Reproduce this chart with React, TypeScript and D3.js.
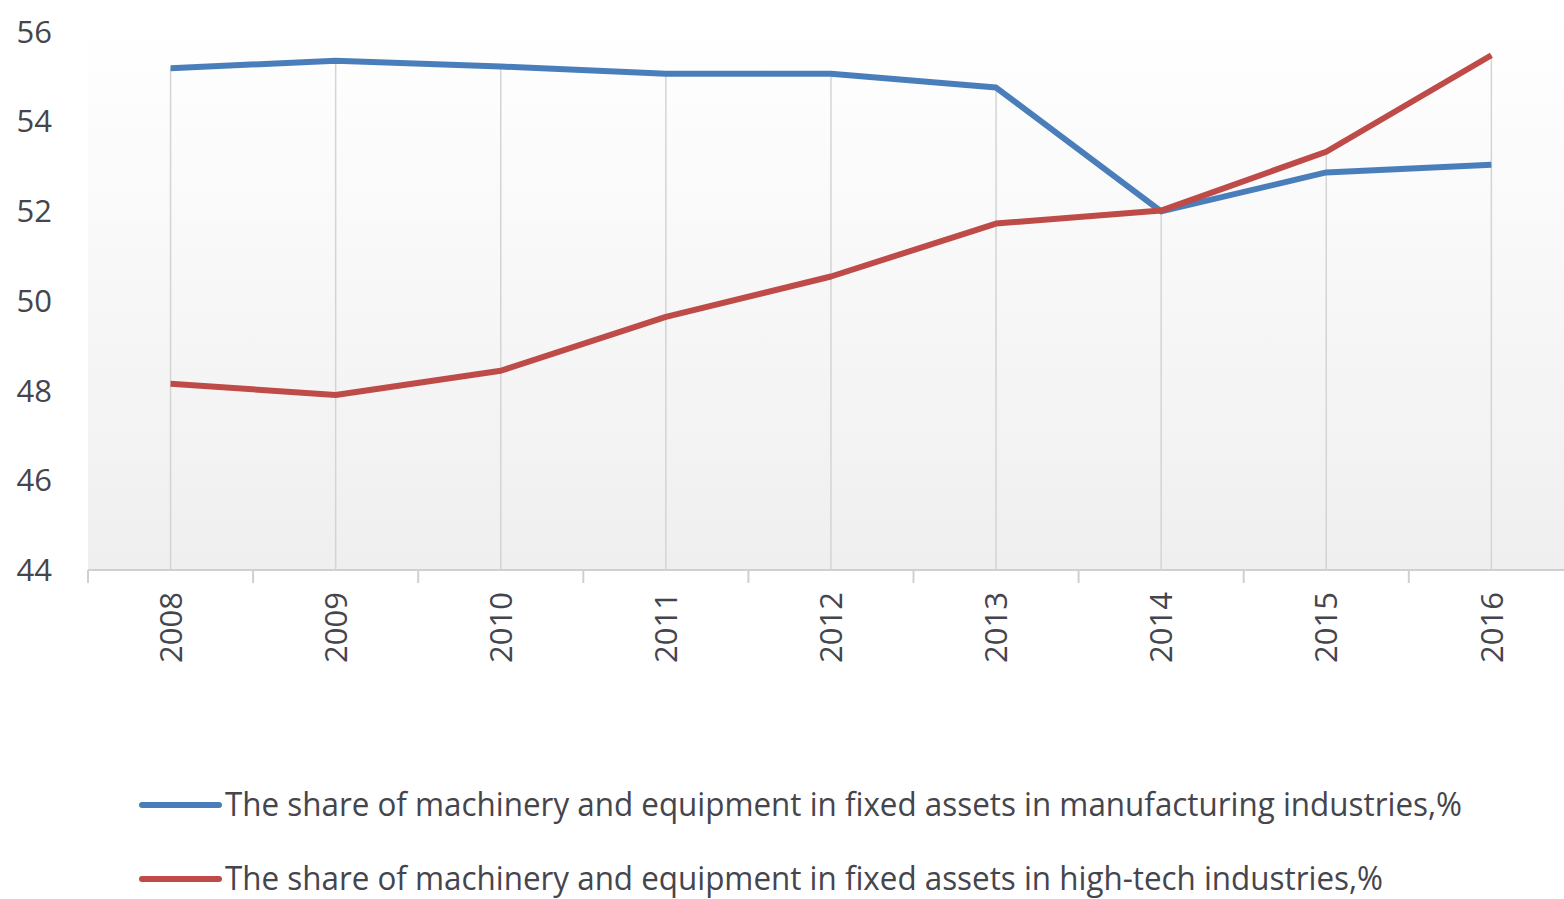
import React, { useEffect, useRef } from 'react';
import * as d3 from 'd3';

const years = ['2008', '2009', '2010', '2011', '2012', '2013', '2014', '2015', '2016'];
const manufacturing = [55.18, 55.35, 55.22, 55.06, 55.06, 54.75, 51.99, 52.86, 53.03];
const highTech = [48.15, 47.9, 48.44, 49.64, 50.54, 51.72, 52.01, 53.32, 55.47];
const yTicks = [44, 46, 48, 50, 52, 54, 56];
const seriesLabels = [
    'The share of machinery and equipment in fixed assets in manufacturing industries,%',
    'The share of machinery and equipment in fixed assets in high-tech industries,%',
];

const W = 1564;
const H = 899;
const blue = '#4a7ebb';
const red = '#be4b48';
const labelColor = '#45454d';
const font = '"Open Sans", "DejaVu Sans", sans-serif';

const drawChart = (svgEl: SVGSVGElement) => {
    const svg = d3.select(svgEl);
    svg.selectAll('*').remove();

    const left = 88;
    const bandW = 165.1;
    const top = 31.5;
    const bottom = 570;

    const x = d3.scaleBand<string>()
        .domain(years)
        .range([left, left + bandW * years.length])
        .padding(0);
    const cx = (y: string) => (x(y) as number) + x.bandwidth() / 2;

    const y = d3.scaleLinear().domain([44, 56]).range([bottom, top]);

    // --- background gradient ---
    const defs = svg.append('defs');
    const grad = defs.append('linearGradient')
        .attr('id', 'plotBg')
        .attr('x1', 0).attr('y1', 0).attr('x2', 0).attr('y2', 1);
    grad.append('stop').attr('offset', '0%').attr('stop-color', '#ffffff');
    grad.append('stop').attr('offset', '100%').attr('stop-color', '#efefef');

    svg.append('rect')
        .attr('x', left)
        .attr('y', top - 10)
        .attr('width', W - left)
        .attr('height', bottom - top + 10)
        .attr('fill', 'url(#plotBg)');

    // --- drop lines (from the higher series down to the axis) ---
    years.forEach((yr, i) => {
        const hi = Math.max(manufacturing[i], highTech[i]);
        svg.append('line')
            .attr('x1', cx(yr)).attr('x2', cx(yr))
            .attr('y1', y(hi)).attr('y2', bottom)
            .attr('stroke', '#d4d4d4')
            .attr('stroke-width', 1.5);
    });

    // --- x axis ---
    svg.append('line')
        .attr('x1', left).attr('x2', W)
        .attr('y1', bottom).attr('y2', bottom)
        .attr('stroke', '#d0d0d0')
        .attr('stroke-width', 2);

    const edges = years.map(yr => x(yr) as number).concat([left + bandW * years.length]);
    edges.forEach(ex => {
        svg.append('line')
            .attr('x1', ex).attr('x2', ex)
            .attr('y1', bottom).attr('y2', bottom + 13)
            .attr('stroke', '#d0d0d0')
            .attr('stroke-width', 2);
    });

    years.forEach(yr => {
        const tx = cx(yr);
        const ty = 592;
        svg.append('text')
            .attr('x', tx)
            .attr('y', ty)
            .attr('dy', '0.36em')
            .attr('text-anchor', 'end')
            .attr('transform', `rotate(-90, ${tx}, ${ty})`)
            .style('font-family', font)
            .style('font-size', '31px')
            .style('fill', labelColor)
            .text(yr);
    });

    // --- y labels ---
    yTicks.forEach(t => {
        svg.append('text')
            .attr('x', 52)
            .attr('y', y(t))
            .attr('dy', '0.36em')
            .attr('text-anchor', 'end')
            .style('font-family', font)
            .style('font-size', '31px')
            .style('fill', labelColor)
            .text(t);
    });

    // --- lines ---
    const line = d3.line<number>()
        .x((_d, i) => cx(years[i]))
        .y(d => y(d));

    [[manufacturing, blue], [highTech, red]].forEach(([data, color]) => {
        svg.append('path')
            .attr('d', line(data as number[]))
            .attr('fill', 'none')
            .attr('stroke', color as string)
            .attr('stroke-width', 6)
            .attr('stroke-linejoin', 'round');
    });

    // --- legend ---
    const legend = [
        { label: seriesLabels[0], color: blue, ly: 805, width: 1237 },
        { label: seriesLabels[1], color: red, ly: 879, width: 1158 },
    ];
    legend.forEach(item => {
        svg.append('line')
            .attr('x1', 142).attr('x2', 219)
            .attr('y1', item.ly).attr('y2', item.ly)
            .attr('stroke', item.color)
            .attr('stroke-width', 6)
            .attr('stroke-linecap', 'round');
        svg.append('text')
            .attr('x', 225)
            .attr('y', item.ly)
            .attr('dy', '0.34em')
            .attr('textLength', item.width)
            .attr('lengthAdjust', 'spacingAndGlyphs')
            .style('font-family', font)
            .style('font-size', '32px')
            .style('fill', labelColor)
            .text(item.label);
    });
};

const App: React.FC = () => {
    const ref = useRef<SVGSVGElement | null>(null);

    useEffect(() => {
        if (ref.current) drawChart(ref.current);
    }, []);

    return (
        <div style={{ position: 'absolute', left: 0, top: 0, width: W, height: H, background: '#fff' }}>
            <svg ref={ref} width={W} height={H} style={{ display: 'block' }} />
        </div>
    );
};

export default App;
